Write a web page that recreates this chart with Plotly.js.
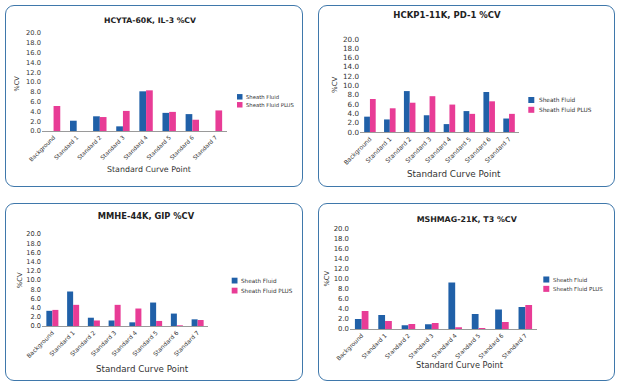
<!DOCTYPE html>
<html><head><meta charset="utf-8">
<script src="https://cdn.plot.ly/plotly-3.0.1.min.js"></script>
<style>
html,body{margin:0;padding:0;background:#fff;}
body{width:620px;height:387px;overflow:hidden;position:relative;}
.box{position:absolute;border:1.5px solid #3f78ab;border-radius:9px;box-sizing:border-box;background:#fff;}
.plot{position:absolute;left:-1.5px;top:-1.5px;}
</style></head>
<body>
<div id="b1" class="box"><div id="p1" class="plot"></div></div>
<div id="b2" class="box"><div id="p2" class="plot"></div></div>
<div id="b3" class="box"><div id="p3" class="plot"></div></div>
<div id="b4" class="box"><div id="p4" class="plot"></div></div>
<script>
// ---- data ----
const categories = ['Background','Standard 1','Standard 2','Standard 3','Standard 4','Standard 5','Standard 6','Standard 7'];
const seriesNames = ['Sheath Fluid','Sheath Fluid PLUS'];
const chartTitles = ['HCYTA-60K, IL-3 %CV','HCKP1-11K, PD-1 %CV','MMHE-44K, GIP %CV','MSHMAG-21K, T3 %CV'];
const xAxisTitle = 'Standard Curve Point';
const yAxisTitle = '%CV';
const yTickVals = [0,2,4,6,8,10,12,14,16,18,20];

const il3Sheath     = [0, 2.1, 3.0, 0.95, 8.1, 3.7, 3.45, 0];
const il3SheathPlus = [5.1, 0, 2.85, 4.1, 8.3, 3.9, 2.3, 4.2];
const pd1Sheath     = [3.3, 2.7, 8.8, 3.6, 1.7, 4.5, 8.6, 2.9];
const pd1SheathPlus = [7.1, 5.1, 6.3, 7.7, 5.9, 3.9, 6.6, 3.9];
const gipSheath     = [3.3, 7.5, 1.8, 1.2, 0.8, 5.1, 2.7, 1.45];
const gipSheathPlus = [3.5, 4.6, 1.2, 4.6, 3.8, 1.1, 0.15, 1.3];
const t3Sheath      = [2.0, 2.8, 0.75, 0.95, 9.3, 3.0, 3.9, 4.4];
const t3SheathPlus  = [3.6, 1.6, 1.0, 1.2, 0.35, 0.2, 1.4, 4.8];

// ---- styling / layout ----
const colors = ['#2060a8','#e83c96'];
const FONT = '"DejaVu Sans", Verdana, sans-serif';

const panels = [
  {id:'p1', box:[5,5,298,182], m:{l:37,r:76,t:28,b:55.7}, series:[il3Sheath, il3SheathPlus],
   title:[145,15,7.7], xt:[143.7,165,7.9], yt:[11.7,79,6.5], tick:6.7, xtick:5.7,
   leg:{x:232, ys:[92,100], s:5.5, tx:239, f:5.3}},
  {id:'p2', box:[318,5,297,182], m:{l:42,r:96,t:34,b:55}, series:[pd1Sheath, pd1SheathPlus],
   title:[129,10,8.5], xt:[135.7,169,8.8], yt:[17,80,7], tick:7.2, xtick:6.1,
   leg:{x:210.3, ys:[95,104.8], s:6, tx:218.7, f:5.8}},
  {id:'p3', box:[5,203,298,178], m:{l:37,r:95,t:30.7,b:55.3}, series:[gipSheath, gipSheathPlus],
   title:[141,12.7,8.3], xt:[137,166,8.7], yt:[15,77,6.8], tick:6.6, xtick:6.0,
   leg:{x:226.7, ys:[77.3,87.3], s:5.8, tx:234.3, f:5.7}},
  {id:'p4', box:[318,203,297,178], m:{l:32,r:78,t:26.3,b:52.3}, series:[t3Sheath, t3SheathPlus],
   title:[148.7,16,7.9], xt:[142,161.3,8.2], yt:[9.3,75.3,6.8], tick:6.9, xtick:5.9,
   leg:{x:225.3, ys:[76.5,85.8], s:6, tx:232.7, f:5.5}}
];

panels.forEach((p, i) => {
  const [bl, bt, W, H] = p.box;
  const box = document.getElementById('b' + (i+1));
  box.style.left = bl + 'px'; box.style.top = bt + 'px';
  box.style.width = W + 'px'; box.style.height = H + 'px';
  const m = p.m;
  const pw = W - m.l - m.r, ph = H - m.t - m.b;
  const fx = px => (px - m.l) / pw;
  const fy = py => (H - m.b - py) / ph;

  const traces = p.series.map((vals, k) => ({
    type:'bar', x:categories, y:vals, name:seriesNames[k],
    marker:{color:colors[k], line:{width:0}}, showlegend:false, hoverinfo:'x+y'
  }));

  const shapes = [];
  const annotations = [
    {text:xAxisTitle, xref:'paper', yref:'paper', x:fx(p.xt[0]), y:fy(p.xt[1]),
     xanchor:'center', yanchor:'middle', showarrow:false, font:{family:FONT, size:p.xt[2], color:'#333'}},
    {text:yAxisTitle, xref:'paper', yref:'paper', x:fx(p.yt[0]), y:fy(p.yt[1]), textangle:-90,
     xanchor:'center', yanchor:'middle', showarrow:false, font:{family:FONT, size:p.yt[2], color:'#333'}}
  ];
  seriesNames.forEach((nm, k) => {
    const cy = p.leg.ys[k], s = p.leg.s;
    shapes.push({type:'rect', xref:'paper', yref:'paper',
      x0:fx(p.leg.x), x1:fx(p.leg.x + s), y0:fy(cy + s/2), y1:fy(cy - s/2),
      fillcolor:colors[k], line:{width:0}});
    annotations.push({text:nm, xref:'paper', yref:'paper', x:fx(p.leg.tx), y:fy(cy),
      xanchor:'left', yanchor:'middle', showarrow:false, font:{family:FONT, size:p.leg.f, color:'#333'}});
  });

  const layout = {
    width:W, height:H, margin:{l:m.l, r:m.r, t:m.t, b:m.b, pad:0},
    paper_bgcolor:'rgba(0,0,0,0)', plot_bgcolor:'rgba(0,0,0,0)',
    font:{family:FONT, color:'#333'},
    title:{text:chartTitles[i], xref:'container', yref:'container',
      x:p.title[0]/W, y:1 - p.title[1]/H, xanchor:'center', yanchor:'middle',
      font:{family:FONT, size:p.title[2], color:'#222', weight:'bold'}},
    barmode:'group', bargap:0.42, bargroupgap:0,
    showlegend:false,
    xaxis:{type:'category', showgrid:false, zeroline:false, showline:true, linecolor:'#9a9a9a', linewidth:1,
      ticks:'', tickangle:-45, tickfont:{family:FONT, size:p.xtick, color:'#333'}, fixedrange:true},
    yaxis:{range:[0,20], tickvals:yTickVals, tickformat:'.1f', showgrid:false, zeroline:false, showline:false,
      ticks:'', tickfont:{family:FONT, size:p.tick, color:'#333'}, fixedrange:true},
    shapes:shapes, annotations:annotations
  };
  Plotly.newPlot(p.id, traces, layout, {displayModeBar:false, staticPlot:true});
});
</script>
</body></html>
